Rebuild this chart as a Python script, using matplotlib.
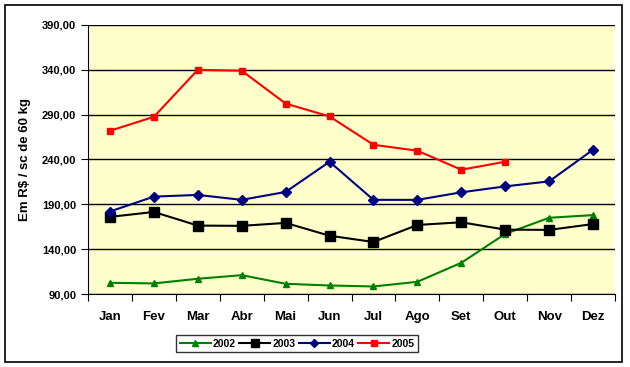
import matplotlib as mpl
mpl.use('Agg')
import matplotlib.pyplot as plt
from matplotlib.patches import Rectangle

months = ['Jan', 'Fev', 'Mar', 'Abr', 'Mai', 'Jun', 'Jul', 'Ago', 'Set', 'Out', 'Nov', 'Dez']
v2002 = [102.5, 101.8, 107, 111, 101.4, 99.5, 98.4, 103.6, 124.8, 157, 175, 178]
v2003 = [176, 181.5, 166.3, 166, 169.3, 155, 148, 167, 170, 161.8, 161.5, 168]
v2004 = [182, 198.6, 200.5, 195, 203.8, 237.5, 195, 195, 203.4, 210, 215.6, 250.9]
v2005 = [272, 287.6, 340, 339, 302.4, 288, 256.4, 249.8, 228.6, 237.5]
yticks = [90, 140, 190, 240, 290, 340, 390]

plt.rcParams['font.family'] = ['Liberation Sans', 'DejaVu Sans']
plt.rcParams['font.weight'] = 'bold'
plt.rcParams['axes.labelweight'] = 'bold'

fig = plt.figure(figsize=(6.3, 3.67), dpi=100)
fig.patches.append(Rectangle((5/630, 5/367), 617/630, 357/367, transform=fig.transFigure,
                             fill=False, edgecolor='black', linewidth=1.2))
ax = fig.add_axes([88/630, 1 - 294/367, 527/630, 269/367])
ax.set_facecolor('#FFFFCC')

x = list(range(len(months)))
ax.plot(x, v2002, color='#008000', marker='^', markersize=5, linewidth=1.5, label='2002')
ax.plot(x, v2003, color='black', marker='s', markersize=7, linewidth=1.5, label='2003')
ax.plot(x[:len(v2004)], v2004, color='#000080', marker='D', markersize=5.5, linewidth=1.5, label='2004')
ax.plot(x[:len(v2005)], v2005, color='#FF0000', marker='s', markersize=5, linewidth=1.5, label='2005')

ax.set_xlim(-0.5, 11.5)
ax.set_ylim(90, 390)
ax.set_yticks(yticks)
ax.set_yticklabels(['%d,00' % v for v in yticks], fontsize=8)
ax.yaxis.grid(True, color='black', linewidth=1)
ax.set_axisbelow(True)

ax.set_xticks([i + 0.5 for i in range(-1, 12)])
ax.set_xticklabels([])
ax.set_xticks(x, minor=True)
ax.set_xticklabels(months, minor=True, fontsize=9.5)
ax.tick_params(axis='x', which='minor', length=0, pad=12)
ax.tick_params(axis='x', which='major', length=5, direction='out')
ax.tick_params(axis='y', length=5, direction='out')

for s in ['top', 'right']:
    ax.spines[s].set_visible(False)

ax.set_ylabel('Em R$ / sc de 60 kg', fontsize=9.5, labelpad=8)

leg = ax.legend(loc='upper left', bbox_to_anchor=(176/630, 1 - 335/367), bbox_transform=fig.transFigure,
                ncol=4, fontsize=7.5, frameon=True, fancybox=False, handlelength=3, markerscale=0.8,
                columnspacing=0.3, handletextpad=0.2, borderpad=0.35, borderaxespad=0)
leg.get_frame().set_edgecolor('black')
leg.get_frame().set_linewidth(1)

fig.savefig('out.png', dpi=100)
